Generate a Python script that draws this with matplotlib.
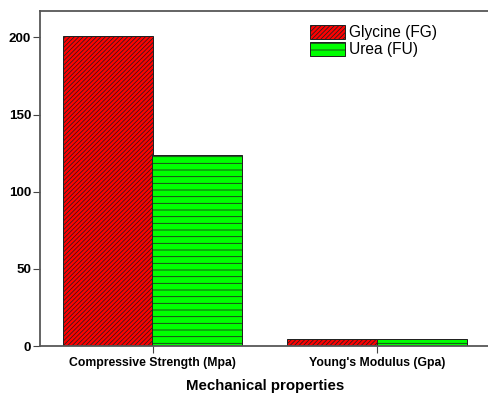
import numpy as np
import matplotlib.pyplot as plt

plt.rcParams['font.family'] = ['Liberation Sans', 'DejaVu Sans']
plt.rcParams['hatch.linewidth'] = 0.7

properties = ['Compressive Strength (Mpa)', "Young's Modulus (Gpa)"]
glycine = [201, 4.6]
urea = [124, 4.6]

x = np.arange(1, len(properties) + 1)
w = 0.4

fig = plt.figure(figsize=(6.1, 4.9625), dpi=80)
ax = fig.add_axes([0.082, 0.128, 0.922, 0.844])

ax.bar(x - w / 2, glycine, w, color='#ff0000', edgecolor='#222222', linewidth=0.9,
       hatch='//////', label='Glycine (FG)')
ax.bar(x + w / 2, urea, w, color='#00ff00', edgecolor='#222222', linewidth=0.9,
       hatch='--', label='Urea (FU)')

ax.set_xlim(0.5, 2.5)
ax.set_ylim(0, 217)
ax.set_xticks(x)
ax.set_xticklabels(properties, fontsize=11, fontweight='bold')
ax.set_yticks([0, 50, 100, 150, 200])
ax.tick_params(axis='y', labelsize=12, length=6, width=1, colors='#444444', labelcolor='black', pad=2)
ax.tick_params(axis='x', length=6, width=1, colors='#444444', labelcolor='black', pad=4)
for lab in ax.get_yticklabels():
    lab.set_fontweight('bold')
ax.set_xlabel('Mechanical properties', fontsize=13.5, fontweight='bold', labelpad=9)

for s in ['left', 'top', 'bottom']:
    ax.spines[s].set_linewidth(1.6)
    ax.spines[s].set_color('#555555')
ax.spines['right'].set_visible(False)

ax.legend(loc='upper left', bbox_to_anchor=(0.57, 1.0), frameon=False, fontsize=14,
          handlelength=2.2, handleheight=1.0, handletextpad=0.25, labelspacing=0.1)

fig.savefig('out.png', dpi=80)
